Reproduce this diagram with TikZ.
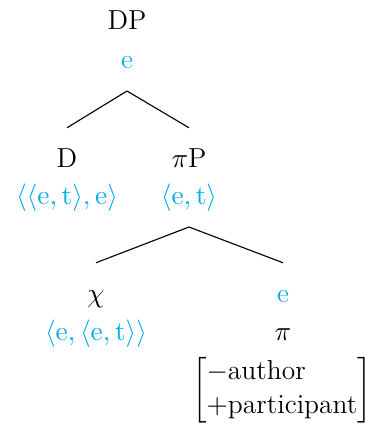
\documentclass[tikz,border=0pt]{standalone}
\usepackage{amsmath}
\usetikzlibrary{positioning}
\definecolor{treeCyan}{RGB}{0, 172, 236}

\begin{document}
\begin{tikzpicture}[
  x=0.4pt, y=-0.4pt,
  treenode/.style={anchor=base, inner sep=0pt, text height=15.5pt, text depth=9pt,
                   font=\fontsize{11}{13.5}\selectfont},
  typenode/.style={treenode, text=treeCyan},
  featnode/.style={inner sep=0pt, font=\fontsize{11}{13.5}\selectfont},
  edge/.style={line width=0.45pt}
]
\useasboundingbox (0,0) rectangle (373,423);
\node[treenode] (dp) at (127,29) {DP};
\node[typenode] (dptype) at (127,68) {e};
\node[treenode] (d) at (67,167) {D};
\node[typenode] (dtype) at (67,204) {$\langle\langle \mathrm{e},\mathrm{t}\rangle,\mathrm{e}\rangle$};
\node[treenode] (pip) at (189,167) {$\pi$P};
\node[typenode] (piptype) at (189,204) {$\langle \mathrm{e},\mathrm{t}\rangle$};
\node[treenode] (chi) at (96,302) {$\chi$};
\node[typenode] (chitype) at (96,340) {$\langle \mathrm{e},\langle \mathrm{e},\mathrm{t}\rangle\rangle$};
\node[typenode] (pitype) at (283,302) {e};
\node[treenode] (pi) at (283,340) {$\pi$};
\node[featnode] (feats) at (282,390)
  {$\left[\begin{array}{@{}l@{}}-\text{author}\\+\text{participant}\end{array}\right]$};
\draw[edge] (dptype.south) -- (d.north);
\draw[edge] (dptype.south) -- (pip.north);
\draw[edge] (piptype.south) -- (chi.north);
\draw[edge] (piptype.south) -- (pitype.north);
\end{tikzpicture}
\end{document}
